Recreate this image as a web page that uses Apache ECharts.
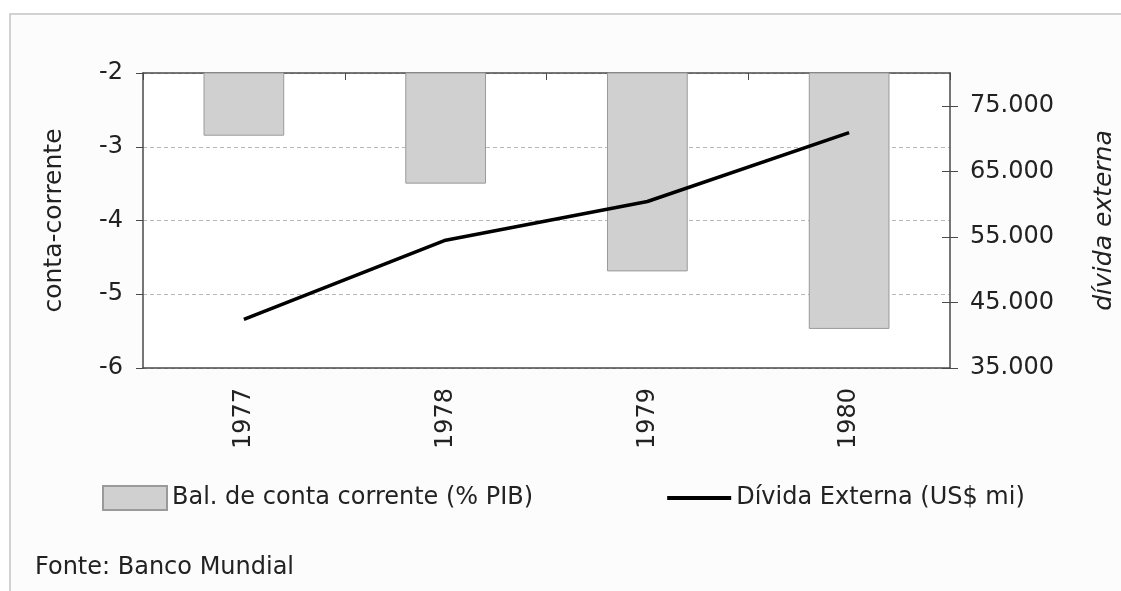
<!DOCTYPE html>
<html>
<head>
<meta charset="utf-8">
<script src="https://cdn.jsdelivr.net/npm/echarts@6/dist/echarts.min.js"></script>
<style>
  html, body { margin: 0; padding: 0; background: #ffffff; }
  #chart { width: 1121px; height: 591px; }
</style>
</head>
<body>
<div id="chart"></div>
<script>
// ---- data ----
const years = ['1977', '1978', '1979', '1980'];
const contaCorrente = [-2.85, -3.5, -4.69, -5.47];      // Bal. de conta corrente (% PIB)
const dividaExterna = [42400, 54500, 60400, 70900];     // Dívida Externa (US$ mi)
const leftTicks = [-6, -5, -4, -3, -2];
const rightTicks = [35000, 45000, 55000, 65000, 75000];
const seriesNames = ['Bal. de conta corrente (% PIB)', 'Dívida Externa (US$ mi)'];
const axisNames = ['conta-corrente', 'dívida externa'];
const sourceText = 'Fonte: Banco Mundial';

const FONT = '"DejaVu Sans", "Liberation Sans", Arial, sans-serif';
const TXT = '#222222';
const AXIS = '#4a4a4a';

function fmtThousands(v) {
  return String(v).replace(/\B(?=(\d{3})+(?!\d))/g, '.');
}

const chart = echarts.init(document.getElementById('chart'), null, { renderer: 'canvas' });

const option = {
  animation: false,
  backgroundColor: '#ffffff',
  textStyle: { fontFamily: FONT },
  graphic: [
    {
      type: 'rect', z: -10, silent: true,
      shape: { x: 10, y: 14, width: 3000, height: 3000 },
      style: { fill: '#fcfcfc', stroke: '#c4c4c4', lineWidth: 1.5 }
    },
    {
      type: 'text', z: 10, silent: true,
      style: {
        text: sourceText, x: 35, y: 568,
        verticalAlign: 'middle', align: 'left',
        font: '24px ' + FONT, fill: TXT
      }
    }
  ],
  legend: {
    left: 97, top: 480,
    itemWidth: 64, itemHeight: 24, itemGap: 134,
    textStyle: { fontSize: 24, color: TXT, fontFamily: FONT },
    data: [
      { name: seriesNames[0], icon: 'rect' },
      { name: seriesNames[1], icon: 'path://M0,0H64V4H0Z',
        itemStyle: { color: '#000000', borderWidth: 0 },
        lineStyle: { width: 4, color: '#000000' } }
    ]
  },
  grid: {
    left: 143, right: 171, top: 73, bottom: 223,
    show: true, backgroundColor: '#ffffff', borderWidth: 0,
    containLabel: false, outerBoundsMode: 'none'
  },
  xAxis: [
    {
      type: 'category', data: years, position: 'bottom',
      axisLine: { show: true, lineStyle: { color: AXIS, width: 1.5 } },
      axisTick: { show: false },
      axisLabel: { rotate: 90, margin: 20, fontSize: 24, color: TXT, fontFamily: FONT },
      splitLine: { show: false }
    },
    {
      type: 'category', data: years, position: 'top',
      axisLine: { show: true, lineStyle: { color: AXIS, width: 1.5 } },
      axisTick: { show: true, inside: true, length: 7, lineStyle: { color: AXIS, width: 1 } },
      axisLabel: { show: false },
      splitLine: { show: false }
    }
  ],
  yAxis: [
    {
      type: 'value', position: 'left',
      min: -6, max: -2, interval: 1,
      name: axisNames[0], nameLocation: 'middle', nameGap: 76,
      nameTextStyle: { fontSize: 25, color: TXT, fontFamily: FONT },
      axisLine: { show: true, lineStyle: { color: AXIS, width: 1.5 } },
      axisTick: { show: true, length: 7, customValues: leftTicks, lineStyle: { color: AXIS, width: 1 } },
      axisLabel: { margin: 20, fontSize: 24, color: TXT, fontFamily: FONT, customValues: leftTicks },
      splitLine: { show: true, lineStyle: { color: '#b8b8b8', width: 1, type: [4, 3] } }
    },
    {
      type: 'value', position: 'right',
      min: 35000, max: 80000, interval: 10000,
      name: axisNames[1], nameLocation: 'middle', nameGap: 142,
      nameTextStyle: { fontSize: 25, color: TXT, fontStyle: 'italic', fontFamily: FONT },
      axisLine: { show: true, lineStyle: { color: AXIS, width: 1.5 } },
      axisTick: { show: true, length: 8, customValues: rightTicks, lineStyle: { color: AXIS, width: 1 } },
      axisLabel: { margin: 20, fontSize: 24, color: TXT, fontFamily: FONT,
                   customValues: rightTicks, formatter: fmtThousands },
      splitLine: { show: false }
    },
    {
      type: 'value', position: 'right',
      min: 35000, max: 80000, interval: 10000,
      axisLine: { show: false },
      axisTick: { show: true, inside: true, length: 8, customValues: rightTicks, lineStyle: { color: AXIS, width: 1 } },
      axisLabel: { show: false },
      splitLine: { show: false }
    }
  ],
  series: [
    {
      name: seriesNames[0], type: 'bar',
      xAxisIndex: 0, yAxisIndex: 0,
      data: contaCorrente, barWidth: '40%', clip: true,
      itemStyle: { color: '#d0d0d0', borderColor: '#9a9a9a', borderWidth: 1 },
      z: 2
    },
    {
      name: seriesNames[1], type: 'line',
      xAxisIndex: 0, yAxisIndex: 1,
      data: dividaExterna, symbol: 'none', showSymbol: false,
      lineStyle: { color: '#000000', width: 3.5 },
      itemStyle: { color: '#000000' },
      z: 3
    }
  ]
};

chart.setOption(option);
</script>
</body>
</html>
